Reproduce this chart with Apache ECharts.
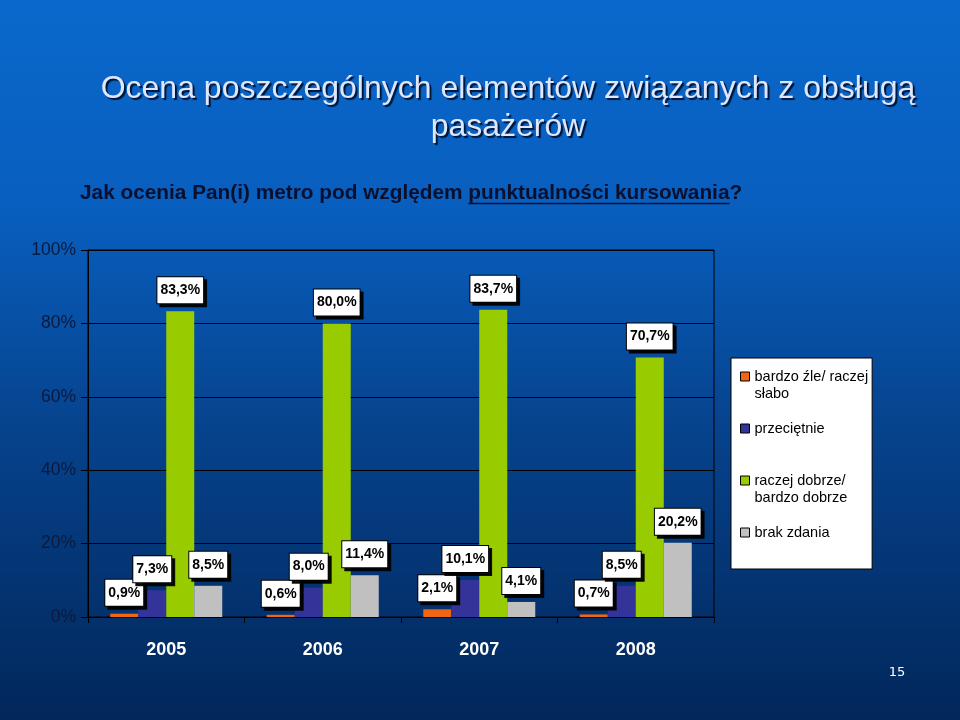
<!DOCTYPE html>
<html>
<head>
<meta charset="utf-8">
<script src="https://cdn.jsdelivr.net/npm/echarts@6/dist/echarts.min.js"></script>
<style>html,body{margin:0;padding:0;}#c{width:960px;height:720px;}</style>
</head>
<body>
<div id="c"></div>
<script>
var categories = ['2005', '2006', '2007', '2008'];
var seriesNames = ['bardzo źle/ raczej słabo', 'przeciętnie', 'raczej dobrze/ bardzo dobrze', 'brak zdania'];
var badValues = [0.9, 0.6, 2.1, 0.7];
var averageValues = [7.3, 8.0, 10.1, 8.5];
var goodValues = [83.3, 80.0, 83.7, 70.7];
var noOpinionValues = [8.5, 11.4, 4.1, 20.2];
var yTicks = [0, 20, 40, 60, 80, 100];
var legendLines = {
  'bardzo źle/ raczej słabo': ['bardzo źle/ raczej', 'słabo'],
  'przeciętnie': ['przeciętnie', ' '],
  'raczej dobrze/ bardzo dobrze': ['raczej dobrze/', 'bardzo dobrze'],
  'brak zdania': ['brak zdania']
};
var colors = ['#f26512', '#33339a', '#99cc00', '#c0c0c0'];

var chart = echarts.init(document.getElementById('c'));
var FONT = 'Arial, "Liberation Sans", sans-serif';

function fmtPct(v) { return v.toFixed(1).replace('.', ',') + '%'; }

var labelStyle = {
  show: true,
  position: 'top',
  distance: 8,
  formatter: function (p) { return fmtPct(p.value); },
  color: '#000',
  fontFamily: FONT,
  fontWeight: 'bold',
  fontSize: 14,
  backgroundColor: '#fff',
  borderColor: '#000',
  borderWidth: 1,
  padding: [6, 3, 6, 3],
  shadowColor: 'rgba(0,0,0,0.9)',
  shadowBlur: 0,
  shadowOffsetX: 3,
  shadowOffsetY: 3
};

var allValues = [badValues, averageValues, goodValues, noOpinionValues];
var series = seriesNames.map(function (n, i) {
  return {
    name: n,
    type: 'bar',
    data: allValues[i],
    barWidth: 28,
    barGap: '0%',
    itemStyle: { color: colors[i] },
    label: labelStyle
  };
});

// underline measurement
var SUBSIZE = 20.8;
var mc = document.createElement('canvas').getContext('2d');
mc.font = 'bold ' + SUBSIZE + 'px ' + FONT;
var subA = 'Jak ocenia Pan(i) metro pod względem ';
var subB = 'punktualności kursowania';
var subX = 80, subY = 193;
var wA = mc.measureText(subA).width;
var wB = mc.measureText(subB).width;

chart.setOption({
  backgroundColor: {
    type: 'linear', x: 0, y: 0, x2: 0, y2: 1,
    colorStops: [
      { offset: 0, color: '#0a68cc' },
      { offset: 0.3, color: '#085ebd' },
      { offset: 0.6, color: '#06428c' },
      { offset: 1, color: '#02275a' }
    ]
  },
  title: [{
    text: 'Ocena poszczególnych elementów związanych z obsługą\npasażerów',
    left: 503,
    top: 65,
    textAlign: 'center',
    textStyle: {
      fontFamily: FONT,
      fontWeight: 'normal',
      fontSize: 32,
      lineHeight: 38,
      color: '#dfe6ff',
      textShadowColor: '#001535',
      textShadowOffsetX: 2,
      textShadowOffsetY: 2,
      textShadowBlur: 1
    }
  }, {
    text: subA + subB + '?',
    left: subX,
    top: subY - 12,
    padding: 0,
    textStyle: {
      fontFamily: FONT,
      fontWeight: 'bold',
      fontSize: SUBSIZE,
      lineHeight: 24,
      color: '#0a0f2c'
    }
  }, {
    text: '15',
    left: 892,
    top: 661,
    textAlign: 'center',
    textStyle: { fontFamily: '"DejaVu Sans", sans-serif', fontWeight: 'normal', fontSize: 13, color: '#fff' }
  }],
  graphic: [{
    type: 'line',
    shape: { x1: subX + wA, y1: subY + 10.5, x2: subX + wA + wB, y2: subY + 10.5 },
    style: { stroke: '#0a0f2c', lineWidth: 1.5 }
  }],
  legend: {
    orient: 'vertical',
    left: 731,
    top: 358,
    padding: [10, 4, 28, 9],
    itemGap: 19,
    itemWidth: 9,
    itemHeight: 9,
    icon: 'rect',
    backgroundColor: '#fff',
    borderColor: '#000',
    borderWidth: 1,
    itemStyle: { borderColor: '#000', borderWidth: 1 },
    data: seriesNames,
    formatter: function (name) {
      return legendLines[name].map(function (l) { return '{t|' + l + '}'; }).join('\n');
    },
    textStyle: {
      fontFamily: FONT, fontSize: 14.5, lineHeight: 17, height: 17, color: '#000',
      rich: { t: { fontFamily: FONT, fontSize: 14.5, lineHeight: 17, color: '#000' } }
    }
  },
  grid: {
    left: 88, right: 246, top: 250, bottom: 103,
    show: true, borderColor: '#000', borderWidth: 1, backgroundColor: 'transparent'
  },
  xAxis: {
    type: 'category',
    data: categories,
    axisLine: { lineStyle: { color: '#000', width: 1 } },
    axisTick: { show: true, length: 6, lineStyle: { color: '#000' } },
    axisLabel: { color: '#fff', fontFamily: FONT, fontWeight: 'bold', fontSize: 18, margin: 24 }
  },
  yAxis: {
    type: 'value',
    min: yTicks[0],
    max: yTicks[yTicks.length - 1],
    interval: yTicks[1] - yTicks[0],
    axisLine: { show: true, lineStyle: { color: '#000', width: 1 } },
    axisTick: { show: true, length: 7, lineStyle: { color: '#000' } },
    splitLine: { lineStyle: { color: '#000', width: 1 } },
    axisLabel: { color: '#0b1a3e', fontFamily: FONT, fontSize: 17.5, margin: 12, formatter: '{value}%' }
  },
  series: series
});
</script>
</body>
</html>
